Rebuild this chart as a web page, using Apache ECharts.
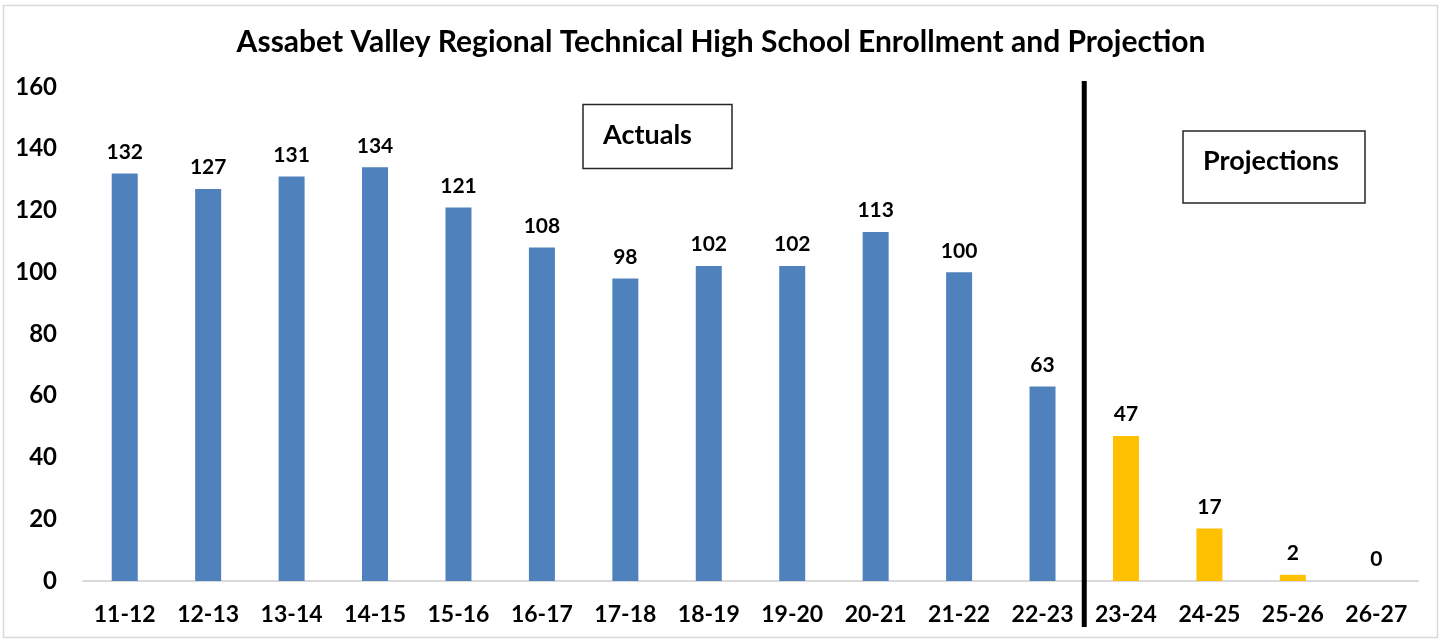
<!DOCTYPE html>
<html>
<head>
<meta charset="utf-8">
<script src="https://cdn.jsdelivr.net/npm/echarts@6/dist/echarts.min.js"></script>
<style>
  html, body { margin: 0; padding: 0; background: #fff; }
  #main { width: 1442px; height: 643px; }
</style>
</head>
<body>
<div id="main"></div>
<script>
// 学年
var years = ['11-12', '12-13', '13-14', '14-15', '15-16', '16-17', '17-18', '18-19', '19-20', '20-21', '21-22', '22-23', '23-24', '24-25', '25-26', '26-27'];
// 实际人数
var actuals = [132, 127, 131, 134, 121, 108, 98, 102, 102, 113, 100, 63, null, null, null, null];
// 预测人数
var projections = [null, null, null, null, null, null, null, null, null, null, null, null, 47, 17, 2, 0];
var yTicks = [0, 20, 40, 60, 80, 100, 120, 140, 160];

var FONT = 'Lato';
var chart = echarts.init(document.getElementById('main'));

var barLabel = {
    show: true,
    position: 'top',
    distance: 11,
    color: '#000',
    fontFamily: FONT,
    fontWeight: 'bold',
    fontSize: 21
};

var option = {
    backgroundColor: '#fff',
    animation: false,
    title: {
        text: 'Assabet Valley Regional Technical High School Enrollment and Projection',
        left: 'center',
        top: 22,
        textStyle: {
            color: '#000',
            fontFamily: FONT,
            fontWeight: 'bold',
            fontSize: 30
        }
    },
    grid: {
        left: 83,
        right: 24,
        top: 87,
        bottom: 62,
        containLabel: false
    },
    xAxis: {
        type: 'category',
        data: years,
        axisLine: { show: true, lineStyle: { color: '#d9d9d9', width: 2 } },
        axisTick: { show: false },
        axisLabel: {
            color: '#000',
            fontFamily: FONT,
            fontWeight: 'bold',
            fontSize: 23,
            margin: 22
        }
    },
    yAxis: {
        type: 'value',
        min: yTicks[0],
        max: yTicks[yTicks.length - 1],
        interval: 20,
        splitLine: { show: false },
        axisLine: { show: false },
        axisTick: { show: false },
        axisLabel: {
            color: '#000',
            fontFamily: FONT,
            fontWeight: 'bold',
            fontSize: 24,
            margin: 26
        }
    },
    series: [{
        name: 'Actuals',
        type: 'bar',
        data: actuals,
        barWidth: 26,
        barGap: '-100%',
        itemStyle: { color: '#4f81bd' },
        label: barLabel
    }, {
        name: 'Projections',
        type: 'bar',
        data: projections,
        barWidth: 26,
        itemStyle: { color: '#ffc000' },
        label: barLabel
    }]
};
chart.setOption(option);

// 分隔线和文本框
var xa = chart.convertToPixel({ xAxisIndex: 0 }, years[11]);
var xb = chart.convertToPixel({ xAxisIndex: 0 }, years[12]);
var sepX = (xa + xb) / 2;
chart.setOption({
    graphic: [{
        type: 'rect',
        shape: { x: 3.5, y: 5.5, width: 1434, height: 632 },
        style: { fill: null, stroke: '#d9d9d9', lineWidth: 1.5 },
        silent: true
    }, {
        type: 'line',
        shape: { x1: sepX, y1: 81, x2: sepX, y2: 627 },
        style: { stroke: '#000', lineWidth: 5 },
        z: 10
    }, {
        type: 'rect',
        shape: { x: 583, y: 104.5, width: 149, height: 64 },
        style: { fill: '#fff', stroke: '#262626', lineWidth: 1.5 },
        z: 10
    }, {
        type: 'text',
        x: 603,
        y: 135,
        style: { text: 'Actuals', fill: '#000', font: 'bold 27px ' + FONT, textVerticalAlign: 'middle' },
        z: 11
    }, {
        type: 'rect',
        shape: { x: 1183, y: 131, width: 182, height: 72 },
        style: { fill: '#fff', stroke: '#262626', lineWidth: 1.5 },
        z: 10
    }, {
        type: 'text',
        x: 1203,
        y: 161,
        style: { text: 'Projections', fill: '#000', font: 'bold 27px ' + FONT, textVerticalAlign: 'middle' },
        z: 11
    }]
});
</script>
</body>
</html>
